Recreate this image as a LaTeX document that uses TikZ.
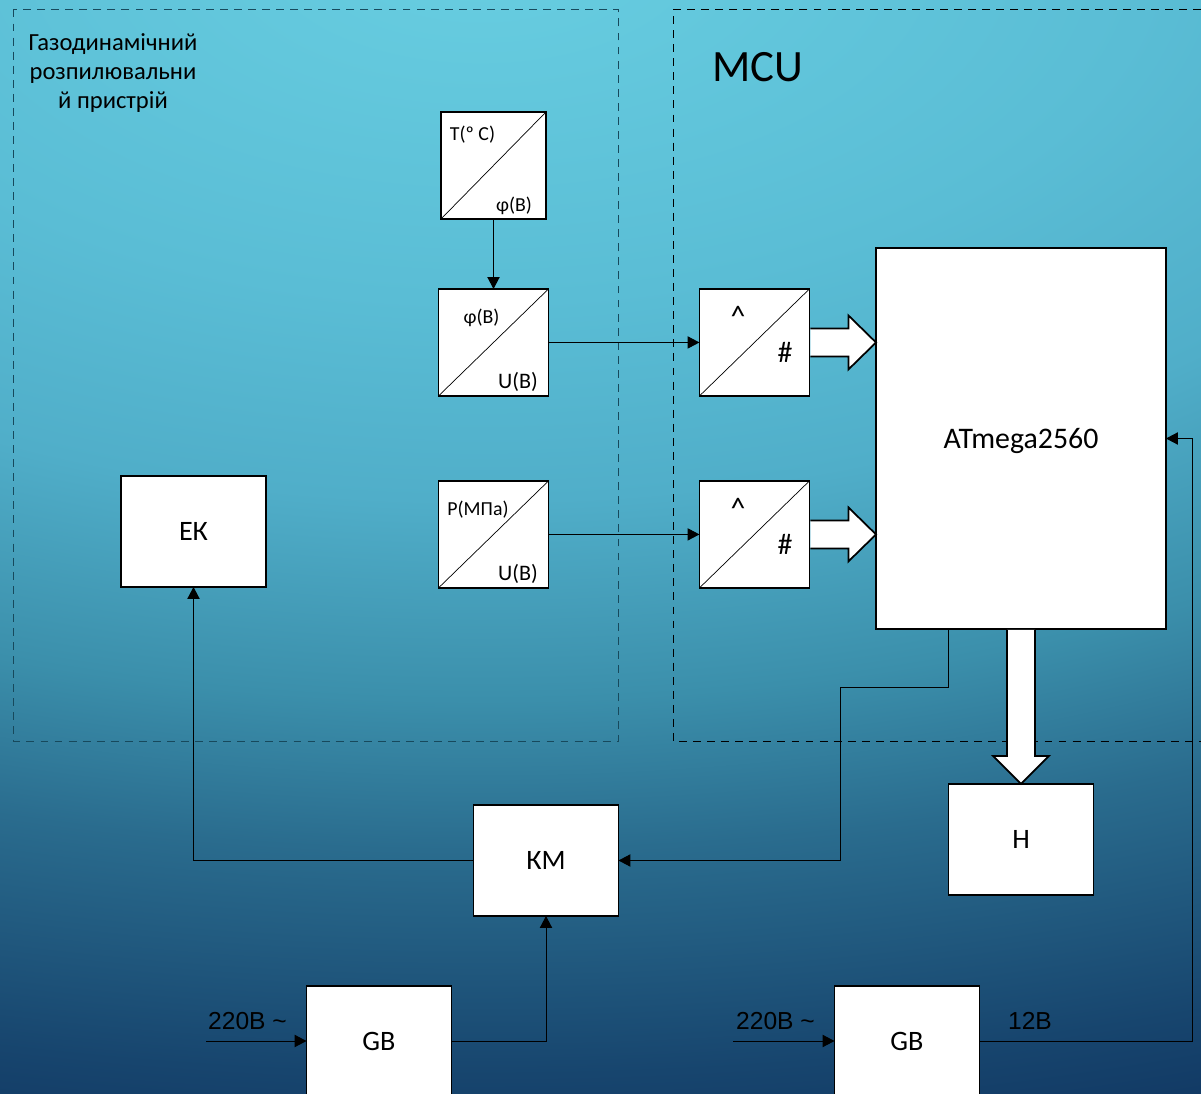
\documentclass[tikz,border=0pt]{standalone}
\usepackage{fontspec}
\setmainfont{Carlito}
\newfontfamily\mainsfont{Liberation Sans}
\usepackage{xcolor}
\usepackage{tikz}
\usetikzlibrary{positioning, arrows.meta, calc}
\definecolor{wirecol}{HTML}{000000}
\definecolor{dashcol}{HTML}{17495C}
\definecolor{bgA}{HTML}{68CEE1}
\definecolor{bgB}{HTML}{5ABDD5}
\definecolor{bgC}{HTML}{50AEC9}
\definecolor{bgD}{HTML}{3B8FAB}
\definecolor{bgE}{HTML}{2A6C8E}
\definecolor{bgF}{HTML}{17456E}
\definecolor{bgG}{HTML}{0F3460}
\pgfdeclareradialshading{bgglow}{\pgfpoint{0bp}{0bp}}{
  color(0bp)=(bgA); color(3.5bp)=(bgB); color(5.5bp)=(bgC);
  color(7.5bp)=(bgD); color(9bp)=(bgE); color(11.25bp)=(bgF);
  color(12.5bp)=(bgG); color(100bp)=(bgG)}
\tikzset{
  block/.style={
    draw=black, line width=1pt, fill=white, outer sep=0pt, inner sep=0pt,
    minimum width=2.9cm, minimum height=2.22cm,
    align=center, font=\fontsize{16}{18}\selectfont,
    text height=10.6pt, text depth=0pt
  },
  conv/.style={
    block,
    minimum width=2.2cm, minimum height=2.14cm
  },
  wire/.style={
    -{Triangle[length=6.8pt,width=7pt]},
    line width=0.55pt, color=wirecol
  },
  diag/.style={line width=0.4pt, color=black},
  bigarrow/.style={draw=black, line width=1pt, fill=white, line join=miter},
  zone/.style={dashed, dash pattern=on 4.5pt off 3.5pt, line width=0.55pt},
  tag/.style={font=\fontsize{11.3}{13}\selectfont, inner sep=0pt},
  sign/.style={font=\fontsize{17}{19}\selectfont, inner sep=0pt},
  supply/.style={font=\mainsfont\fontsize{14}{16}\selectfont, inner sep=0pt}
}
\begin{document}
\begin{tikzpicture}[x=0.02cm, y=-0.02cm]
  \useasboundingbox (0,0) rectangle (1201,1094);
  \clip (0,0) rectangle (1201,1094);
  \shade[shading=bgglow] (480,-50) ellipse (4800 and 2500);

  \draw[zone, draw=dashcol] (13.5,9.5) rectangle (618.5,741.5);
  \draw[zone, draw=black] (1215,9.5) -- (673.5,9.5) -- (673.5,741.5) -- (1215,741.5);
  \node[align=center, inner sep=0pt, font=\fontsize{14}{16.5}\selectfont] (zonetitle) at (113,73) {Газодинамічний\\розпилювальни\\й пристрій};
  \node[inner sep=0pt, font=\fontsize{25.5}{28}\selectfont] (mcutitle) at (758,67) {MCU};

  \node[conv, minimum width=2.1cm] (tconv) at (493.5,165.5) {};
  \node[conv, below=1.4cm of tconv] (phiconv) {};
  \node[conv, below=1.7cm of phiconv] (pconv) {};
  \node[conv, right=3.02cm of phiconv] (adcA) {};
  \node[conv, right=3.02cm of pconv] (adcB) {};
  \node[block, minimum width=5.8cm, minimum height=7.62cm, font=\fontsize{17}{19}\selectfont, text height=11.2pt] (avr) at (1021,438.5) {ATmega2560};
  \node[block] (ek) at (193.5,531.5) {ЕК};
  \node[block] (km) at (546,860.5) {КМ};
  \node[block, below=3.1cm of avr] (lcd) {Н};
  \node[block, minimum height=2.2cm] (gbA) at (379,1041) {GB};
  \node[block, minimum height=2.2cm] (gbB) at (907,1041) {GB};

  \draw[diag] (tconv.south west) -- (tconv.north east);
  \draw[diag] (phiconv.south west) -- (phiconv.north east);
  \draw[diag] (pconv.south west) -- (pconv.north east);
  \draw[diag] (adcA.south west) -- (adcA.north east);
  \draw[diag] (adcB.south west) -- (adcB.north east);

  \node[tag] (tIn) at (472.5,135) {T(º C)};
  \node[tag] (tOut) at (514,206) {φ(В)};
  \node[tag] (phiIn) at (481.5,318) {φ(В)};
  \node[tag, font=\fontsize{12.6}{14}\selectfont] (phiOut) at (518,382) {U(В)};
  \node[tag] (pIn) at (478,510) {Р(МПа)};
  \node[tag, font=\fontsize{12.6}{14}\selectfont] (pOut) at (518,574) {U(В)};
  \node[sign] (adcAin) at (738,316) {\^{}};
  \node[sign] (adcAout) at (785,352) {\#};
  \node[sign] (adcBin) at (738,508) {\^{}};
  \node[sign] (adcBout) at (785,544) {\#};

  \coordinate (bendA) at (840,687);
  \coordinate (feedA) at (206,1041);
  \coordinate (feedB) at (733,1041);
  \coordinate (railB) at (1192,1041);

  \draw[wire] (tconv) -- (phiconv);
  \draw[wire] (phiconv) -- (adcA);
  \draw[wire] (pconv) -- (adcB);
  \draw[wire] (avr.south -| lcd.west) |- (bendA) |- (km.east);
  \draw[wire] (km.west) -| (ek.south);
  \draw[wire] (gbA.east) -| (km.south);
  \draw[wire] (feedA) -- (gbA.west);
  \draw[wire] (feedB) -- (gbB.west);
  \draw[wire] (gbB.east) -- (railB) |- (avr.east);

  \draw[bigarrow] ($(adcA.east)+(1,-14)$) -- ++(38,0) -- ++(0,-13) -- ($(avr.west |- adcA.east)$) -- ($(adcA.east)+(39,27)$) -- ++(0,-13) -- ++(-38,0);
  \draw[bigarrow] ($(adcB.east)+(1,-14)$) -- ++(38,0) -- ++(0,-13) -- ($(avr.west |- adcB.east)$) -- ($(adcB.east)+(39,27)$) -- ++(0,-13) -- ++(-38,0);
  \draw[bigarrow] ($(avr.south)+(-14,1)$) -- ++(0,126) -- ++(-14,0) -- (lcd.north) -- ($(avr.south)+(28,127)$) -- ++(-14,0) -- ++(0,-126);

  \node[supply] (mainsA) at (247.5,1021) {220В \textasciitilde};
  \node[supply] (mainsB) at (775.5,1021) {220В \textasciitilde};
  \node[supply] (lowv) at (1030,1021) {12В};
\end{tikzpicture}
\end{document}
